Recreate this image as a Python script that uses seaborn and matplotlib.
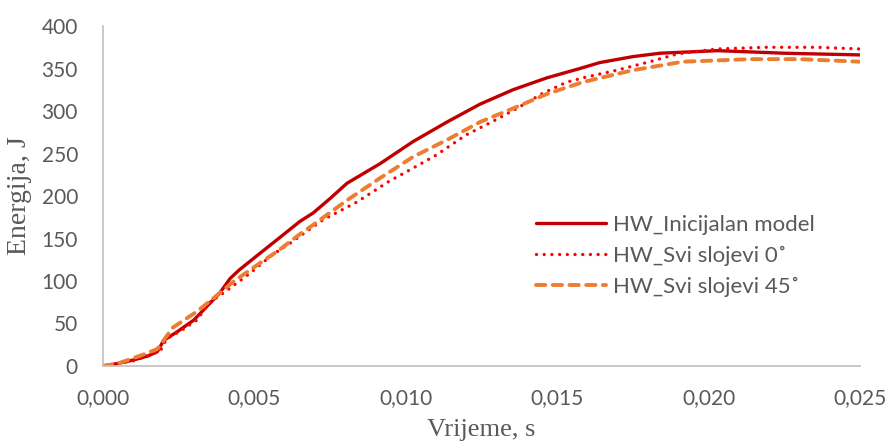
import numpy as np
import pandas as pd
import matplotlib
matplotlib.use('Agg')
import matplotlib.pyplot as plt
import seaborn as sns
from matplotlib.ticker import FuncFormatter, MultipleLocator

# HW_Inicijalan model
t_init = [0, 0.0005, 0.001, 0.0015, 0.0018, 0.002, 0.00244, 0.003, 0.00343, 0.00386,
          0.0042, 0.0045, 0.0052, 0.0058, 0.0065, 0.00694, 0.0075, 0.00806, 0.00915,
          0.01024, 0.01136, 0.01245, 0.01354, 0.01466, 0.01575, 0.01641, 0.0175,
          0.0184, 0.0203, 0.0225, 0.025]
e_init = [0, 3, 7, 12, 17, 30, 40, 54, 70, 86,
          103, 113, 133, 150, 170, 180, 197, 215, 238,
          264, 287, 308, 325, 339, 350, 357, 364,
          368, 371, 368, 366]

# HW_Svi slojevi 0°
t_0 = [0, 0.0005, 0.001, 0.0015, 0.0019, 0.0021, 0.0026, 0.0031, 0.00353, 0.0041,
       0.00485, 0.0056, 0.0062, 0.00727, 0.00839, 0.00948, 0.01, 0.011, 0.012,
       0.01278, 0.01367, 0.01453, 0.01532, 0.01585, 0.01697, 0.01806, 0.01895,
       0.02027, 0.02192, 0.02358, 0.025]
e_0 = [0, 3, 6, 12, 18, 32, 42, 54, 75, 89,
       109, 131, 145, 172, 193, 218, 228, 248, 272,
       286, 303, 321, 334, 339, 348, 358, 367,
       373, 375, 375, 373]

# HW_Svi slojevi 45°
t_45 = [0, 0.0005, 0.0013, 0.0018, 0.002, 0.0023, 0.0031, 0.00376, 0.0043, 0.0051,
        0.0058, 0.0065, 0.00694, 0.00806, 0.00915, 0.01024, 0.01136, 0.01245,
        0.01354, 0.01466, 0.01585, 0.0175, 0.01915, 0.02137, 0.02302, 0.025]
e_45 = [0, 3, 13, 20, 30, 45, 64, 83, 99, 119,
        136, 155, 166, 195, 221, 246, 266, 287,
        303, 320, 334, 348, 358, 361, 361, 358]

labels = ['HW_Inicijalan model', 'HW_Svi slojevi 0˚', 'HW_Svi slojevi 45˚']

sns.set_style('white')
plt.rcParams['font.family'] = ['Lato', 'DejaVu Sans']

fig = plt.figure(figsize=(8.9, 4.44), dpi=100)
ax = fig.add_axes([0.1157, 0.1757, 0.8505, 0.7657])

sns.lineplot(x=t_init, y=e_init, ax=ax, color='#C00000', linewidth=2.4,
             label=labels[0], solid_capstyle='round')
sns.lineplot(x=t_0, y=e_0, ax=ax, color='#FF0000', linewidth=2.4,
             label=labels[1])
sns.lineplot(x=t_45, y=e_45, ax=ax, color='#ED7D31', linewidth=2.8,
             label=labels[2])

lines = ax.get_lines()
lines[1].set_linestyle((0, (0.01, 2.3)))
lines[1].set_dash_capstyle('round')
lines[2].set_linestyle((0, (2.4, 1.9)))
lines[2].set_dash_capstyle('round')

ax.set_xlim(0, 0.025)
ax.set_ylim(0, 400)
ax.xaxis.set_major_locator(MultipleLocator(0.005))
ax.yaxis.set_major_locator(MultipleLocator(50))
ax.xaxis.set_major_formatter(FuncFormatter(lambda v, p: f'{v:.3f}'.replace('.', ',')))

for s in ['top', 'right']:
    ax.spines[s].set_visible(False)
for s in ['left', 'bottom']:
    ax.spines[s].set_color('#BFBFBF')
    ax.spines[s].set_linewidth(1.2)

ax.tick_params(axis='both', labelsize=15, colors='#595959', length=0)
ax.tick_params(axis='x', pad=16)
ax.tick_params(axis='y', pad=18)

ax.set_xlabel('Vrijeme, s', fontsize=19, color='#595959', family='Liberation Serif')
ax.xaxis.set_label_coords(0.5, -0.155)
ax.set_ylabel('Energija, J', fontsize=20, color='#595959', family='Liberation Serif')
ax.yaxis.set_label_coords(-0.094, 0.5)

leg = ax.legend(loc='center left', bbox_to_anchor=(0.572, 0.3235), frameon=False,
                fontsize=16, handlelength=3.15, labelspacing=0.5, handletextpad=0.3,
                borderpad=0, borderaxespad=0)
for txt in leg.get_texts():
    txt.set_color('#595959')

fig.savefig('out.png', dpi=100)
